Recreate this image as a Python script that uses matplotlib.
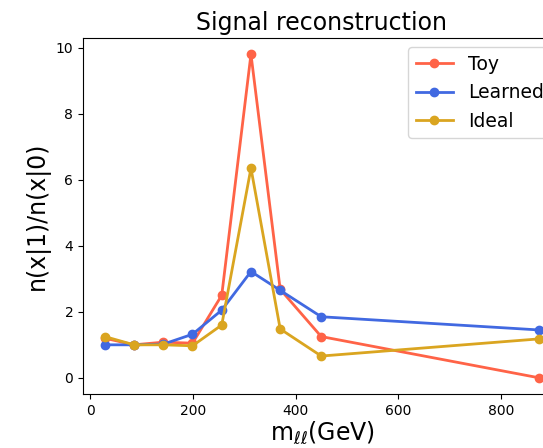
import matplotlib
matplotlib.use("Agg")
import matplotlib.pyplot as plt

mass = [28, 85, 142, 199, 256, 313, 370, 450, 875]
toy = [1.2, 1.0, 1.08, 1.05, 2.5, 9.8, 2.68, 1.25, 0.0]
learned = [1.0, 1.0, 1.02, 1.32, 2.05, 3.22, 2.65, 1.85, 1.45]
ideal = [1.25, 1.0, 1.0, 0.97, 1.6, 6.35, 1.48, 0.66, 1.18]

fig = plt.figure(figsize=(5.43, 4.48), dpi=100)
ax = fig.add_axes([0.153, 0.1205, 0.88, 0.7945])
ax.plot(mass, toy, "-o", color="tomato", lw=2, ms=6, label="Toy")
ax.plot(mass, learned, "-o", color="royalblue", lw=2, ms=6, label="Learned")
ax.plot(mass, ideal, "-o", color="goldenrod", lw=2, ms=6, label="Ideal")
ax.set_title("Signal reconstruction", fontsize=17)
ax.set_xlabel(r"m$_{\ell\ell}$(GeV)", fontsize=17, labelpad=1)
ax.set_ylabel("n(x|1)/n(x|0)", fontsize=17)
ax.set_xticks([0, 200, 400, 600, 800])
ax.set_yticks([0, 2, 4, 6, 8, 10])
ax.legend(loc="upper right", fontsize=13.5)
fig.savefig("out.png", dpi=100)
